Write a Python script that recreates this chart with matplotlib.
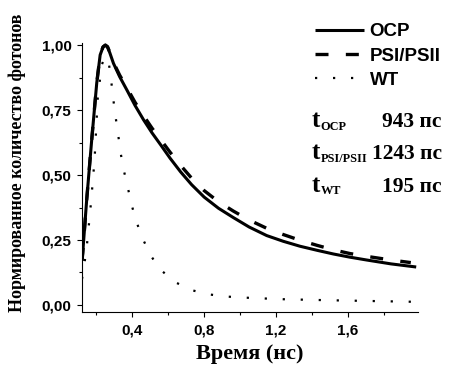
import matplotlib
matplotlib.use("Agg")
import matplotlib.pyplot as plt
from matplotlib.ticker import FixedLocator, FuncFormatter

# ---- data ----
ocp_t = [0.120, 0.124, 0.146, 0.174, 0.202, 0.221, 0.237, 0.250, 0.262, 0.275,
         0.295, 0.330, 0.370, 0.415, 0.463, 0.510, 0.557, 0.610, 0.669, 0.730,
         0.800, 0.880, 0.963, 1.050, 1.148, 1.240, 1.333, 1.430, 1.520, 1.610,
         1.704, 1.840, 1.980]
ocp_v = [0.170, 0.200, 0.404, 0.635, 0.854, 0.962, 0.993, 1.000, 0.993, 0.970,
         0.930, 0.878, 0.827, 0.768, 0.712, 0.662, 0.617, 0.565, 0.512, 0.463,
         0.415, 0.372, 0.336, 0.300, 0.267, 0.245, 0.226, 0.210, 0.196, 0.184,
         0.173, 0.158, 0.146]

psi_t = [0.120, 0.124, 0.146, 0.174, 0.202, 0.221, 0.237, 0.250, 0.262, 0.275,
         0.295, 0.330, 0.370, 0.415, 0.463, 0.510, 0.557, 0.610, 0.669, 0.730,
         0.800, 0.880, 0.963, 1.050, 1.148, 1.240, 1.333, 1.430, 1.520, 1.610,
         1.704, 1.840, 1.950]
psi_v = [0.170, 0.200, 0.404, 0.635, 0.854, 0.962, 0.993, 1.000, 0.994, 0.972,
         0.933, 0.884, 0.836, 0.780, 0.728, 0.680, 0.637, 0.588, 0.537, 0.488,
         0.440, 0.397, 0.361, 0.327, 0.295, 0.271, 0.249, 0.229, 0.212, 0.198,
         0.187, 0.173, 0.163]

wt_t = [0.120, 0.131, 0.146, 0.155, 0.165, 0.174, 0.190, 0.208, 0.230, 0.250,
        0.267, 0.281, 0.292, 0.305, 0.320, 0.333, 0.351, 0.374, 0.395, 0.423,
        0.458, 0.501, 0.553, 0.637, 0.735, 0.833, 0.930, 1.030, 1.130, 1.240,
        1.500, 1.980]
wt_v = [0.100, 0.147, 0.220, 0.286, 0.355, 0.427, 0.560, 0.800, 0.925, 0.955,
        0.942, 0.872, 0.804, 0.733, 0.663, 0.593, 0.523, 0.455, 0.388, 0.320,
        0.255, 0.192, 0.138, 0.088, 0.056, 0.040, 0.032, 0.028, 0.025, 0.022,
        0.018, 0.012]

series_labels = ["OCP", "PSI/PSII", "WT"]
x_major = [0.4, 0.8, 1.2, 1.6]
x_minor = [0.2, 0.6, 1.0, 1.4, 1.8]
y_major = [0.0, 0.25, 0.5, 0.75, 1.0]
y_minor = [0.125, 0.375, 0.625, 0.875]
lifetime_subs = ["OCP", "PSI/PSII", "WT"]
lifetime_vals = ["943 пс", "1243 пс", "195 пс"]

W, H = 449, 370
fig = plt.figure(figsize=(W / 100, H / 100), dpi=100)
ax = fig.add_axes([82 / W, 1 - 311.7 / H, (418 - 82) / W, (311.7 - 43.3) / H])

ax.plot(ocp_t, ocp_v, color='black', lw=2.2, solid_capstyle='butt',
        solid_joinstyle='round', label=series_labels[0])
ax.plot(psi_t, psi_v, color='black', lw=2.4, linestyle=(0, (3.9, 5.2)), label=series_labels[1])
ax.plot(wt_t, wt_v, color='black', lw=1.6, linestyle=(0, (1, 7.1)), label=series_labels[2])

ax.set_xlim(0.12, 1.99)
ax.set_ylim(-0.026, 1.007)

for s in ['top', 'right']:
    ax.spines[s].set_visible(False)
for s in ['left', 'bottom']:
    ax.spines[s].set_linewidth(0.8)

ax.xaxis.set_major_locator(FixedLocator(x_major))
ax.xaxis.set_minor_locator(FixedLocator(x_minor))
ax.yaxis.set_major_locator(FixedLocator(y_major))
ax.yaxis.set_minor_locator(FixedLocator(y_minor))
ax.xaxis.set_major_formatter(FuncFormatter(lambda v, p: f"{v:.1f}".replace('.', ',')))
ax.yaxis.set_major_formatter(FuncFormatter(lambda v, p: f"{v:.2f}".replace('.', ',')))
ax.tick_params(which='major', direction='out', length=3.5, width=0.8)
ax.tick_params(which='minor', direction='out', length=2, width=0.8)
ax.tick_params(axis='y', which='major', pad=4)
ax.tick_params(axis='x', which='major', pad=5)
for lab in ax.get_xticklabels() + ax.get_yticklabels():
    lab.set_fontfamily('Liberation Sans')
    lab.set_fontweight('bold')
    lab.set_fontsize(11)

ax.set_xlabel("Время (нс)", family='Liberation Serif', weight='bold', fontsize=16, labelpad=5)
ax.set_ylabel("Нормированное количество фотонов", family='Liberation Serif', weight='bold',
              fontsize=13)
ax.yaxis.set_label_coords(-0.168, (311.7 - 163) / (311.7 - 43.3))

leg = ax.legend(loc='upper left', bbox_to_anchor=(306 / W, 1 - 14 / H),
                bbox_transform=fig.transFigure, frameon=False,
                prop={'family': 'Liberation Sans', 'weight': 'bold', 'size': 13.5},
                handlelength=2.6, handletextpad=0.3, labelspacing=0.38, borderpad=0)

baselines = [127.5, 159.5, 191.5]
for sub, val, yb in zip(lifetime_subs, lifetime_vals, baselines):
    fig.text(312 / W, 1 - yb / H, "t", family='Liberation Serif', weight='bold',
             fontsize=18, ha='left', va='baseline')
    fig.text(320.5 / W, 1 - (yb + 2.5) / H, sub, family='Liberation Serif', weight='bold',
             fontsize=8.8, ha='left', va='baseline')
    fig.text(442 / W, 1 - yb / H, val, family='Liberation Serif', weight='bold',
             fontsize=15.5, ha='right', va='baseline')

fig.savefig("out.png", dpi=100)
